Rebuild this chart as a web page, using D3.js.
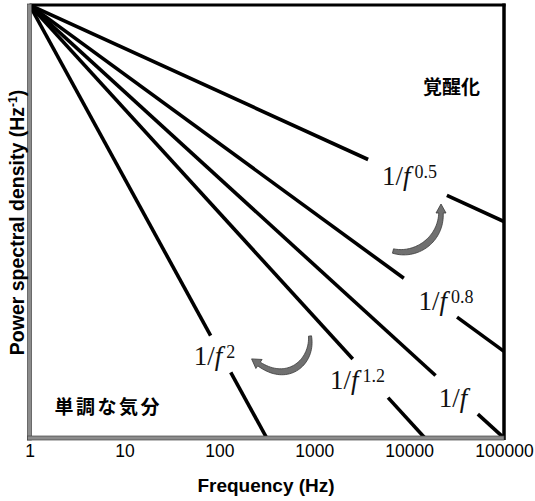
<!DOCTYPE html>
<html><head><meta charset="utf-8">
<script src="https://cdn.jsdelivr.net/npm/d3@7"></script>
<style>body{margin:0;background:#fff}</style>
</head><body><svg id="c" width="535" height="501"></svg>
<script>
// ---- data ----
const exponents = [0.5, 0.8, 1, 1.2, 2];
const supLabels = ["0.5", "0.8", "", "1.2", "2"];
const gapStart = [3700, 8800, 19000, 2550, 81];     // Hz, where label gap begins
const gapEnd   = [25000, 32000, 53000, 6000, 132];  // Hz, where line resumes
const xTicks = [1, 10, 100, 1000, 10000, 100000];
const xDomain = [1, 1e5];
const yDomain = [1e-5, 1];
const moodLabels = ["覚醒化", "単調な気分"];

// ---- layout ----
const W = 535, H = 501;
const L = 29.5, R = 504, T = 5, B = 438;
const labelOffsets = [[-25.5, 8], [-12, 12], [-18, 12], [-40.5, 11], [-27, 11]];

const svg = d3.select("#c");
const x = d3.scaleLog().domain(xDomain).range([L, R]);
const y = d3.scaleLog().domain(yDomain).range([B, T]);

svg.append("defs").append("clipPath").attr("id", "plot")
  .append("rect").attr("x", L).attr("y", T).attr("width", R - L).attr("height", B - T);

const line = d3.line().x(d => x(d[0])).y(d => y(d[1]));
const g = svg.append("g").attr("clip-path", "url(#plot)");

exponents.forEach((k, i) => {
  const fEnd = Math.min(xDomain[1], Math.pow(1 / yDomain[0], 1 / k));
  const segs = [[xDomain[0], gapStart[i]], [gapEnd[i], fEnd]];
  segs.forEach(([a, b]) => {
    g.append("path")
      .attr("d", line([[a, Math.pow(a, -k)], [b, Math.pow(b, -k)]]))
      .attr("stroke", "#000").attr("stroke-width", 3.6).attr("fill", "none");
  });
  // label
  const fm = Math.sqrt(gapStart[i] * gapEnd[i]);
  const ax = x(fm), ay = y(Math.pow(fm, -k));
  const t = svg.append("text")
    .attr("x", ax + labelOffsets[i][0]).attr("y", ay + labelOffsets[i][1])
    .attr("font-family", "Liberation Serif, Times New Roman, serif")
    .attr("font-size", 27).attr("fill", "#111");
  t.append("tspan").text("1/");
  t.append("tspan").attr("font-style", "italic").text("f");
  if (supLabels[i]) {
    t.append("tspan").attr("font-size", 18).attr("dx", 4).attr("dy", -7).text(supLabels[i]);
  }
});

// ---- frame ----
svg.append("line").attr("x1", L).attr("x2", R + 1.5).attr("y1", T).attr("y2", T)
  .attr("stroke", "#000").attr("stroke-width", 3);
svg.append("line").attr("x1", R).attr("x2", R).attr("y1", T - 1.5).attr("y2", B + 2)
  .attr("stroke", "#000").attr("stroke-width", 3.5);
svg.append("rect").attr("x", L - 2).attr("y", T - 1).attr("width", 4).attr("height", B - T + 3)
  .attr("fill", "#8c8c8c").attr("stroke", "#444").attr("stroke-width", 0.7);
svg.append("rect").attr("x", L - 2).attr("y", B - 2).attr("width", R - L + 2).attr("height", 4)
  .attr("fill", "#8c8c8c").attr("stroke", "#444").attr("stroke-width", 0.7);

// ---- x axis ----
const ax = svg.append("g").attr("transform", `translate(0,${B})`)
  .call(d3.axisBottom(x).tickValues(xTicks).tickFormat(d3.format("d")).tickSize(0).tickPadding(7));
ax.select(".domain").remove();
ax.selectAll("text").attr("font-family", "Liberation Sans, Arial, sans-serif")
  .attr("font-size", 17.5).attr("fill", "#000");

svg.append("text").attr("x", 266).attr("y", 492).attr("text-anchor", "middle")
  .attr("font-family", "Liberation Sans, Arial, sans-serif").attr("font-weight", "bold")
  .attr("font-size", 19).text("Frequency (Hz)");

const yl = svg.append("text").attr("transform", `translate(24,${(T + B) / 2 + 1}) rotate(-90)`)
  .attr("text-anchor", "middle")
  .attr("font-family", "Liberation Sans, Arial, sans-serif").attr("font-weight", "bold")
  .attr("font-size", 19.5);
yl.append("tspan").text("Power spectral density (Hz");
yl.append("tspan").attr("font-size", 12).attr("dy", -7).text("-1");
yl.append("tspan").attr("dy", 7).text(")");

// ---- mood labels ----
svg.append("text").attr("x", R - 81).attr("y", 85).attr("dominant-baseline", "central")
  .attr("font-family", "Noto Sans CJK JP").attr("font-weight", "bold").attr("font-size", 19)
  .text(moodLabels[0]);
svg.append("text").attr("x", L + 25).attr("y", 405).attr("dominant-baseline", "central")
  .attr("font-family", "Noto Sans CJK JP").attr("font-weight", "bold").attr("font-size", 19)
  .attr("letter-spacing", 2.5).text(moodLabels[1]);

// ---- curved arrows ----
function cubic(p, t) {
  const m = 1 - t;
  return [m*m*m*p[0][0] + 3*m*m*t*p[1][0] + 3*m*t*t*p[2][0] + t*t*t*p[3][0],
          m*m*m*p[0][1] + 3*m*m*t*p[1][1] + 3*m*t*t*p[2][1] + t*t*t*p[3][1]];
}
function arrow(p, w0, w1, bulge, headLen, headW) {
  const n = 40, left = [], right = [];
  for (let i = 0; i <= n; i++) {
    const t = i / n;
    const a = cubic(p, Math.max(0, t - 0.01)), b = cubic(p, Math.min(1, t + 0.01));
    let dx = b[0] - a[0], dy = b[1] - a[1]; const len = Math.hypot(dx, dy); dx /= len; dy /= len;
    const c = cubic(p, t);
    const w = (w0 * (1 - t) + w1 * t + bulge * Math.sin(Math.PI * t)) / 2;
    left.push([c[0] - dy * w, c[1] + dx * w]);
    right.push([c[0] + dy * w, c[1] - dx * w]);
  }
  const e = p[3];
  let tx = p[3][0] - p[2][0], ty = p[3][1] - p[2][1]; const tl = Math.hypot(tx, ty); tx /= tl; ty /= tl;
  const tip = [e[0] + tx * headLen, e[1] + ty * headLen];
  const hl = [e[0] - ty * headW / 2, e[1] + tx * headW / 2];
  const hr = [e[0] + ty * headW / 2, e[1] - tx * headW / 2];
  const pts = left.concat([hl, tip, hr]).concat(right.reverse());
  svg.append("path").attr("d", "M" + pts.map(q => q.join(",")).join("L") + "Z")
    .attr("fill", "#707070").attr("stroke", "#3a3a3a").attr("stroke-width", 0.8)
    .attr("stroke-linejoin", "round");
}
arrow([[393, 251], [416, 257], [441, 240], [441, 213]], 4.5, 4.5, 2, 9, 10);
arrow([[310, 336], [313, 362], [288, 384], [259, 364]], 3, 4.5, 2.5, 9, 11);
</script></body></html>
